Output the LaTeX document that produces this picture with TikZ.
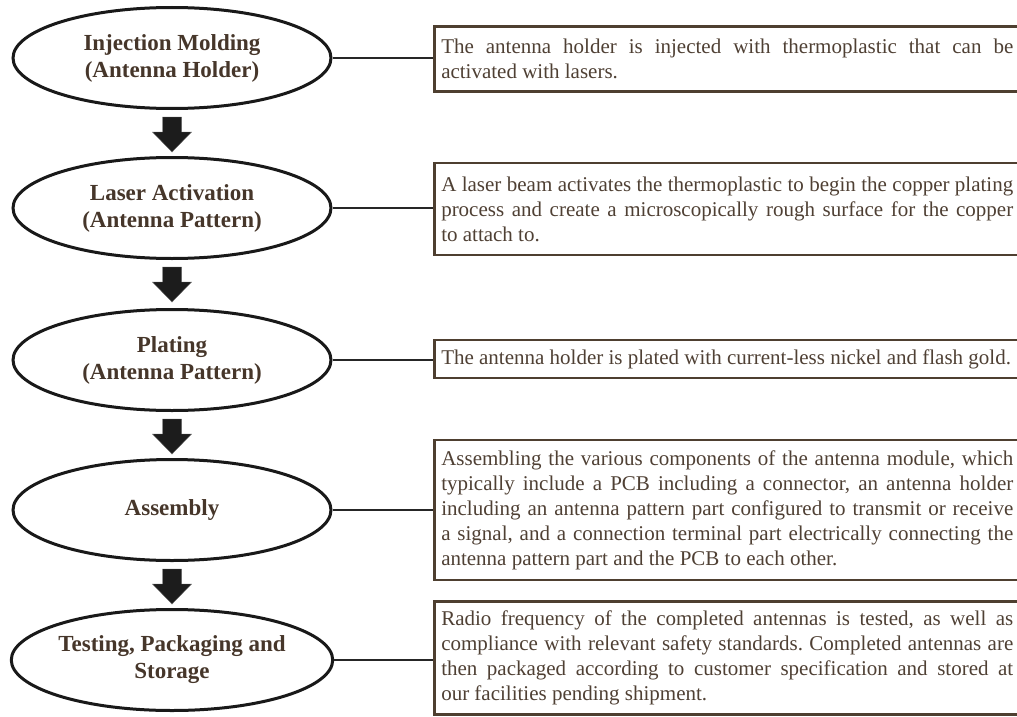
\documentclass[tikz,border=0pt]{standalone}
\usepackage{fontspec}
\setmainfont{Liberation Serif}
\usetikzlibrary{calc,shapes.geometric}
\definecolor{txtbrown}{HTML}{46362A}
\definecolor{desctxt}{HTML}{4F4034}
\definecolor{boxbrown}{HTML}{4E3F30}
\definecolor{arrowfill}{HTML}{1C1C1C}
\tikzset{
  x=1pt, y=-1pt,
  stage/.style={ellipse, draw=black!90, line width=3pt, fill=white,
    minimum width=318pt, minimum height=101pt, inner sep=0pt,
    align=center, text=txtbrown,
    font=\fontsize{23pt}{27pt}\selectfont\bfseries},
  descbox/.style={draw=boxbrown, line width=2.5pt, anchor=west,
    text width=572pt, inner xsep=7pt, inner ysep=0pt, align=justify,
    text=desctxt, font=\fontsize{21pt}{25pt}\selectfont\frenchspacing,
    minimum height=#1},
  link/.style={draw=black!85, line width=1.5pt},
  blk/.pic={\fill[arrowfill, draw=black!60, line width=0.4pt]
    (-9.5,0) -- (9.5,0) -- (9.5,15) -- (19.5,15) -- (0,35)
    -- (-19.5,15) -- (-9.5,15) -- cycle;}
}
\begin{document}
\begin{tikzpicture}
\clip (0,0) rectangle (1017,717);
\fill[white] (0,0) rectangle (1017,717);

\node[stage] (e1) at (172,58) {Injection Molding\\(Antenna Holder)};
\node[stage] (e2) at (172,208) {Laser Activation\\(Antenna Pattern)};
\node[stage] (e3) at (172,360) {Plating\\(Antenna Pattern)};
\node[stage] (e4) at (172,510) {Assembly};
\node[stage] (e5) at (172,660) {Testing, Packaging and\\Storage};

\node[descbox=65pt] (b1) at (433,59) {\tolerance=9999 The antenna holder is injected with thermoplastic that can be\linebreak activated with lasers.};
\node[descbox=92pt] (b2) at (433,209) {\tolerance=9999 A laser beam activates the thermoplastic to begin the copper plating\linebreak process and create a microscopically rough surface for the copper\linebreak to attach to.};
\node[descbox=38pt] (b3) at (433,359) {\tolerance=9999 The antenna holder is plated with \mbox{current-less} nickel and flash gold.};
\node[descbox=140pt] (b4) at (433,510) {\tolerance=9999 Assembling the various components of the antenna module, which\linebreak typically include a PCB including a connector, an antenna holder\linebreak including an antenna pattern part configured to transmit or receive\linebreak a signal, and a connection terminal part electrically connecting the\linebreak antenna pattern part and the PCB to each other.};
\node[descbox=113pt] (b5) at (433,658) {\tolerance=9999 Radio frequency of the completed antennas is tested, as well as\linebreak compliance with relevant safety standards. Completed antennas are\linebreak then packaged according to customer specification and stored at\linebreak our facilities pending shipment.};

\draw[link] (e1.east) -- (e1.east -| b1.west);
\draw[link] (e2.east) -- (e2.east -| b2.west);
\draw[link] (e3.east) -- (e3.east -| b3.west);
\draw[link] (e4.east) -- (e4.east -| b4.west);
\draw[link] (e5.east) -- (e5.east -| b5.west);

\pic at ($(e1.south)+(0,7)$) {blk};
\pic at ($(e2.south)+(0,7)$) {blk};
\pic at ($(e3.south)+(0,7)$) {blk};
\pic at ($(e4.south)+(0,7)$) {blk};
\end{tikzpicture}
\end{document}
